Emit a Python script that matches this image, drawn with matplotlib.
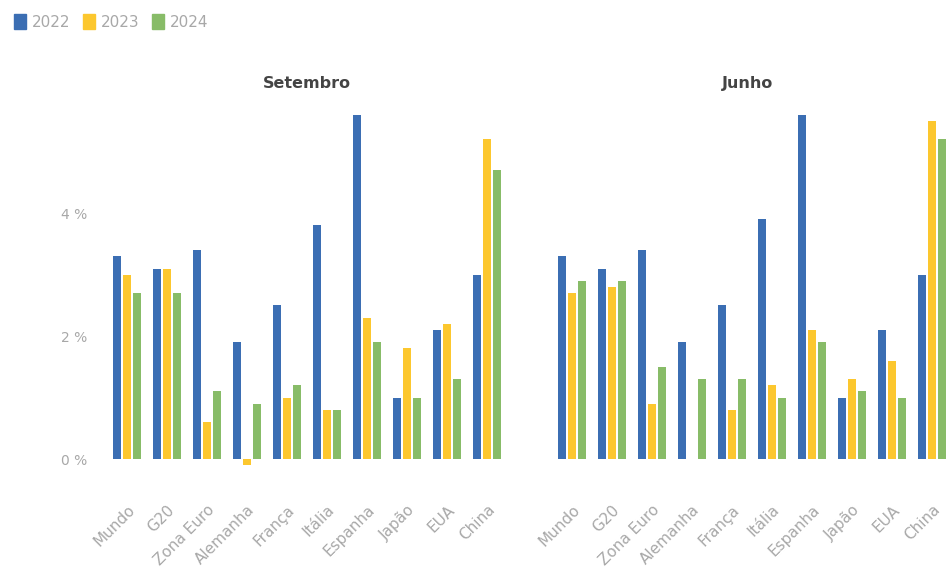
import numpy as np
import matplotlib
matplotlib.use("Agg")
import matplotlib.pyplot as plt
from matplotlib.patches import Patch

paises = ["Mundo", "G20", "Zona Euro", "Alemanha", "França", "Itália",
          "Espanha", "Japão", "EUA", "China"]
anos = ["2022", "2023", "2024"]

# Setembro
set_2022 = [3.3, 3.1, 3.4, 1.9, 2.5, 3.8, 5.6, 1.0, 2.1, 3.0]
set_2023 = [3.0, 3.1, 0.6, -0.1, 1.0, 0.8, 2.3, 1.8, 2.2, 5.2]
set_2024 = [2.7, 2.7, 1.1, 0.9, 1.2, 0.8, 1.9, 1.0, 1.3, 4.7]

# Junho
jun_2022 = [3.3, 3.1, 3.4, 1.9, 2.5, 3.9, 5.6, 1.0, 2.1, 3.0]
jun_2023 = [2.7, 2.8, 0.9, 0.0, 0.8, 1.2, 2.1, 1.3, 1.6, 5.5]
jun_2024 = [2.9, 2.9, 1.5, 1.3, 1.3, 1.0, 1.9, 1.1, 1.0, 5.2]

cores = ["#3b6eb3", "#fcc72e", "#88bc68"]
cinza = "#a8a8a8"

fig = plt.figure(figsize=(9.48, 5.77), dpi=100)
ax1 = fig.add_axes([103 / 948, 97 / 577, 408 / 948, 375 / 577])
ax2 = fig.add_axes([548 / 948, 97 / 577, 400 / 948, 375 / 577])

x = np.arange(len(paises))
largura = 0.18
desloc = 0.25


def painel(ax, series, titulo, xmax):
    for i, valores in enumerate(series):
        ax.bar(x + (i - 1) * desloc, valores, largura, color=cores[i])
    ax.set_xlim(-0.6, xmax)
    ax.set_ylim(-0.34, 5.76)
    ax.set_title(titulo, fontsize=11.5, fontweight="bold", color="#444444", pad=12)
    ax.set_xticks(x)
    ax.set_xticklabels(paises, rotation=45, ha="right", rotation_mode="anchor",
                       fontsize=11, color=cinza)
    ax.tick_params(axis="x", length=0, pad=16)
    for s in ax.spines.values():
        s.set_visible(False)


painel(ax1, [set_2022, set_2023, set_2024], "Setembro", 9.6)
painel(ax2, [jun_2022, jun_2023, jun_2024], "Junho", 9.4)

ax1.set_yticks([0, 2, 4])
ax1.set_yticklabels(["0 %", "2 %", "4 %"], fontsize=10, color=cinza)
ax1.tick_params(axis="y", length=0, pad=11)
ax2.set_yticks([])

handles = [Patch(color=c, label=a) for c, a in zip(cores, anos)]
fig.legend(handles=handles, loc="upper left", bbox_to_anchor=(0.0, 1.0), ncol=3,
           frameon=False, fontsize=11, labelcolor=cinza, handlelength=0.8,
           handleheight=1.2, handletextpad=0.4, columnspacing=0.8)

fig.savefig("out.png", dpi=100)
